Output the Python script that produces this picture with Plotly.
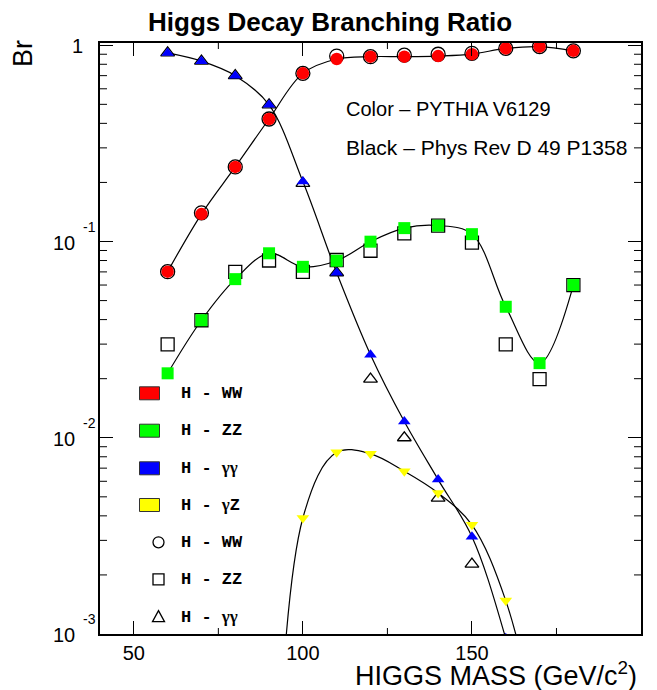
import math
import plotly.graph_objects as go

# ---------------- data ----------------
mass = [60, 70, 80, 90, 100, 110, 120, 130, 140, 150, 160, 170, 180]

# PYTHIA V6129 (colour)
br_ww_pythia = [0.0702, 0.138, 0.240, 0.421, 0.719, 0.851, 0.875, 0.875, 0.881, 0.901, 0.964, 0.984, 0.937]
br_zz_pythia = [0.0213, 0.0397, 0.0643, 0.0871, 0.0743, 0.0798, 0.0998, 0.117, 0.1205, 0.109, 0.0465, 0.0240, 0.060]
mass_gg = [60, 70, 80, 90, 100, 110, 120, 130, 140, 150, 160]
br_gg_pythia = [0.914, 0.830, 0.700, 0.497, 0.202, 0.0693, 0.0265, 0.0121, 0.00612, 0.00313, 0.00095]
mass_gz = [100, 110, 120, 130, 140, 150, 160]
br_gz_pythia = [0.00390, 0.00843, 0.00828, 0.00675, 0.00523, 0.00360, 0.00148]

# smooth-curve continuation below the frame
mass_gg_curve = mass_gg + [170]
br_gg_curve = br_gg_pythia + [0.0002]
mass_gz_curve = [90] + mass_gz + [170]
br_gz_curve = [0.00001] + br_gz_pythia + [0.0003]

# Phys Rev D 49 P1358 (black, open)
br_ww_prd = [0.0702, 0.140, 0.240, 0.421, 0.719, 0.881, 0.875, 0.89, 0.90, 0.91, 0.964, 0.984, 0.937]
br_zz_prd = [0.0299, 0.0397, 0.070, 0.080, 0.070, 0.0805, 0.0897, 0.110, 0.1206, 0.0987, 0.0299, 0.0199, 0.060]
mass_gg_prd = [60, 70, 80, 90, 100, 110, 120, 130, 140, 150]
br_gg_prd = [0.914, 0.830, 0.700, 0.497, 0.198, 0.0693, 0.0199, 0.0100, 0.00493, 0.00227]

y_decades = [0, -1, -2, -3]
y_tick_labels = ["1", "-1", "-2", "-3"]
y_minor_mult = [2, 3, 4, 5, 6, 7, 8, 9]
x_minor_ticks = [75, 125, 175]

legend_labels = ["H - WW", "H - ZZ", "H - γγ", "H - γZ", "H - WW", "H - ZZ", "H - γγ"]
legend_colors = ["#ff0000", "#00ff00", "#0000ff", "#ffff00"]

# ---------------- figure ----------------
W, H = 657, 690
L, R, T, B = 100, 641, 43, 634
PW, PH = R - L, B - T
X_RANGE = [40, 200]
Y_RANGE = [-3, 0.0115]


def px(xp):
    return (xp - L) / PW


def py(yp):
    return (B - yp) / PH


def fx(v):  # data x -> paper
    return (v - X_RANGE[0]) / (X_RANGE[1] - X_RANGE[0])


def fy(logv):  # log10 data y -> paper
    return (logv - Y_RANGE[0]) / (Y_RANGE[1] - Y_RANGE[0])


SANS = "Liberation Sans, Arial, Helvetica, sans-serif"
MONO = "Liberation Mono, Courier New, monospace"

fig = go.Figure()

line_style = dict(color="black", width=1.2, shape="spline", smoothing=1.0)
fig.add_trace(go.Scatter(x=mass, y=br_ww_pythia, mode="lines", line=line_style, hoverinfo="skip"))
fig.add_trace(go.Scatter(x=mass, y=br_zz_pythia, mode="lines", line=line_style, hoverinfo="skip"))
fig.add_trace(go.Scatter(x=mass_gg_curve, y=br_gg_curve, mode="lines", line=line_style, hoverinfo="skip"))
fig.add_trace(go.Scatter(x=mass_gz_curve, y=br_gz_curve, mode="lines", line=line_style, hoverinfo="skip"))

open_line = dict(color="black", width=1.3)
fig.add_trace(go.Scatter(x=mass, y=br_ww_prd, mode="markers",
                         marker=dict(symbol="circle-open", size=14, line=open_line, color="black")))
fig.add_trace(go.Scatter(x=mass, y=br_zz_prd, mode="markers",
                         marker=dict(symbol="square-open", size=13, line=open_line, color="black")))
fig.add_trace(go.Scatter(x=mass_gg_prd, y=br_gg_prd, mode="markers",
                         marker=dict(symbol="triangle-up-open", size=12, line=open_line, color="black")))

fig.add_trace(go.Scatter(x=mass, y=br_ww_pythia, mode="markers",
                         marker=dict(symbol="circle", size=12.5, color="#ff0000", line=dict(width=0))))
fig.add_trace(go.Scatter(x=mass, y=br_zz_pythia, mode="markers",
                         marker=dict(symbol="square", size=12, color="#00ff00", line=dict(width=0))))
fig.add_trace(go.Scatter(x=mass_gg, y=br_gg_pythia, mode="markers",
                         marker=dict(symbol="triangle-up", size=11, color="#0000ff", line=dict(width=0))))
fig.add_trace(go.Scatter(x=mass_gz, y=br_gz_pythia, mode="markers",
                         marker=dict(symbol="triangle-down", size=11, color="#ffff00", line=dict(width=0))))

annotations = []
shapes = []

# title
annotations.append(dict(text="<b>Higgs Decay Branching Ratio</b>", x=px(330), y=py(22),
                        xref="paper", yref="paper", showarrow=False, xanchor="center", yanchor="middle",
                        font=dict(family=SANS, size=26, color="black")))
# axis titles
annotations.append(dict(text="HIGGS MASS (GeV/c<sup>2</sup>)", x=px(639), y=py(674),
                        xref="paper", yref="paper", showarrow=False, xanchor="right", yanchor="middle",
                        font=dict(family=SANS, size=27, color="black")))
annotations.append(dict(text="Br", x=px(23), y=py(54), textangle=-90,
                        xref="paper", yref="paper", showarrow=False, xanchor="center", yanchor="middle",
                        font=dict(family=SANS, size=27, color="black")))
# info text
annotations.append(dict(text="Color \u2013 PYTHIA V6129", x=px(344), y=py(109),
                        xref="paper", yref="paper", showarrow=False, xanchor="left", yanchor="middle",
                        font=dict(family=SANS, size=20, color="black")))
annotations.append(dict(text="Black \u2013 Phys Rev D 49 P1358", x=px(344), y=py(147),
                        xref="paper", yref="paper", showarrow=False, xanchor="left", yanchor="middle",
                        font=dict(family=SANS, size=21, color="black")))

# y tick labels (ROOT style 10 ^-n)
for d, lab in zip(y_decades, y_tick_labels):
    if d == 0:
        annotations.append(dict(text=lab, x=px(77), y=d, xref="paper", yref="y", yshift=-1,
                                showarrow=False, xanchor="center", yanchor="middle",
                                font=dict(family=SANS, size=20, color="black")))
    else:
        annotations.append(dict(text="10", x=px(63.5), y=d, xref="paper", yref="y", yshift=-1,
                                showarrow=False, xanchor="center", yanchor="middle",
                                font=dict(family=SANS, size=20, color="black")))
        annotations.append(dict(text=lab, x=px(89), y=d, xref="paper", yref="y", yshift=15,
                                showarrow=False, xanchor="center", yanchor="middle",
                                font=dict(family=SANS, size=14, color="black")))

# y minor ticks (inside, both sides)
tick_line = dict(color="black", width=1)
for d in y_decades[1:]:
    for m in y_minor_mult:
        yp = fy(d + math.log10(m))
        shapes.append(dict(type="line", xref="paper", yref="paper", x0=0, x1=7 / PW, y0=yp, y1=yp,
                           line=tick_line))
        shapes.append(dict(type="line", xref="paper", yref="paper", x0=1 - 7 / PW, x1=1, y0=yp, y1=yp,
                           line=tick_line))
# x minor ticks (inside, bottom and top)
for v in x_minor_ticks:
    xp = fx(v)
    shapes.append(dict(type="line", xref="paper", yref="paper", x0=xp, x1=xp, y0=0, y1=6 / PH,
                       line=tick_line))
    shapes.append(dict(type="line", xref="paper", yref="paper", x0=xp, x1=xp, y0=1 - 6 / PH, y1=1,
                       line=tick_line))

# manual legend
rows = [393.3, 430.7, 468.3, 505, 542.3, 579.3, 616.7]
cx = 158.5
for i, (row, lab) in enumerate(zip(rows, legend_labels)):
    if i < 4:
        shapes.append(dict(type="rect", xref="paper", yref="paper",
                           x0=px(139.5), x1=px(159.5), y0=py(row + 6.5), y1=py(row - 6.5),
                           fillcolor=legend_colors[i], line=dict(color="#333333", width=1)))
    elif i == 4:
        shapes.append(dict(type="circle", xref="paper", yref="paper",
                           x0=px(cx - 5.5), x1=px(cx + 5.5), y0=py(row + 5.5), y1=py(row - 5.5),
                           line=dict(color="black", width=1.3)))
    elif i == 5:
        shapes.append(dict(type="rect", xref="paper", yref="paper",
                           x0=px(cx - 5.5), x1=px(cx + 5.5), y0=py(row + 5.5), y1=py(row - 5.5),
                           line=dict(color="black", width=1.3)))
    else:
        path = "M {:.5f} {:.5f} L {:.5f} {:.5f} L {:.5f} {:.5f} Z".format(
            px(cx - 6), py(row + 5), px(cx + 6), py(row + 5), px(cx), py(row - 6))
        shapes.append(dict(type="path", xref="paper", yref="paper", path=path,
                           line=dict(color="black", width=1.3)))
    head, tail = lab.split(" - ")
    tail_html = "".join(
        '<span style="font-family:Liberation Serif">γ</span>' if ch == "γ" else ch for ch in tail)
    annotations.append(dict(text="<b>" + head + " - " + tail_html + "</b>", x=px(179), y=py(row),
                            xref="paper", yref="paper",
                            showarrow=False, xanchor="left", yanchor="middle",
                            font=dict(family=MONO, size=17, color="black")))

fig.update_layout(
    width=W, height=H,
    margin=dict(l=L, r=W - R, t=T, b=H - B, pad=0),
    paper_bgcolor="white", plot_bgcolor="white",
    showlegend=False,
    annotations=annotations,
    shapes=shapes,
    xaxis=dict(range=X_RANGE, tick0=0, dtick=50, ticks="inside", ticklen=13, tickwidth=1,
               tickcolor="black", mirror="allticks", showline=True, linecolor="black", linewidth=2,
               showgrid=False, zeroline=False,
               tickfont=dict(family=SANS, size=20, color="black")),
    yaxis=dict(type="log", range=Y_RANGE, dtick=1, ticks="inside", ticklen=13, tickwidth=1,
               tickcolor="black", mirror="allticks", showline=True, linecolor="black", linewidth=2,
               showgrid=False, zeroline=False, showticklabels=False),
)

fig.write_html("out.html")
